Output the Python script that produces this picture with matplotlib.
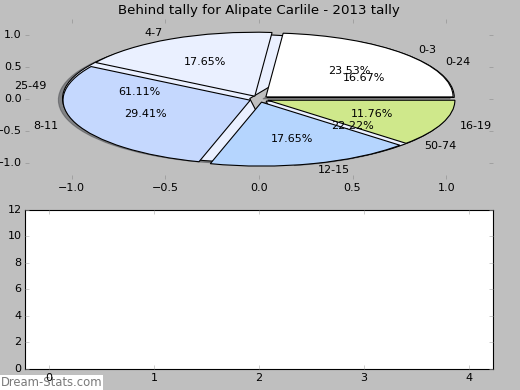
import matplotlib
matplotlib.use("Agg")
import matplotlib.pyplot as plt

plt.style.use("classic")
plt.rcParams["font.family"] = "DejaVu Sans"
plt.rcParams["font.size"] = 10

# data: behind tally by point range
inner_labels = ["0-3", "4-7", "8-11", "12-15", "16-19"]
inner_counts = [4, 3, 5, 3, 2]
outer_labels = ["0-24", "25-49", "50-74"]
outer_counts = [3, 11, 4]

inner_colors = ["#ffffff", "#eaf0ff", "#c5d8fe", "#b5d5fe", "#cfe88b"]
outer_colors = ["#ffffff", "#eaf0ff", "#eaf0ff"]

fig = plt.figure(figsize=(6.5, 4.875), dpi=80, facecolor="#bfbfbf")

# top: pie
ax1 = fig.add_axes([0.048, 0.541, 0.9, 0.41])
ax1.pie(outer_counts, labels=outer_labels, colors=outer_colors,
        explode=[0.05] * len(outer_counts), shadow=True, autopct="%.2f%%",
        frame=True, wedgeprops=dict(linewidth=1.0, edgecolor="black"))
ax1.pie(inner_counts, labels=inner_labels, colors=inner_colors,
        explode=[0.05] * len(inner_counts), autopct="%.2f%%",
        frame=True, wedgeprops=dict(linewidth=1.0, edgecolor="black"))
ax1.set_aspect("auto")
ax1.set_xlim(-1.25, 1.25)
ax1.set_ylim(-1.25, 1.25)
ax1.set_xticks([-1.0, -0.5, 0.0, 0.5, 1.0])
ax1.set_yticks([-1.0, -0.5, 0.0, 0.5, 1.0])
ax1.set_frame_on(False)
ax1.tick_params(direction="in", length=4, color="#8a8a8a")
ax1.tick_params(axis="y", pad=3)
ax1.set_title("Behind tally for Alipate Carlile - 2013 tally", fontsize=12)

# bottom: empty axes
ax2 = fig.add_axes([0.048, 0.054, 0.9, 0.408])
ax2.set_facecolor("white")
ax2.set_xlim(-0.23, 4.23)
ax2.set_ylim(0, 12)
ax2.set_xticks([0, 1, 2, 3, 4])
ax2.set_yticks([0, 2, 4, 6, 8, 10, 12])
ax2.tick_params(direction="in", length=4, color="#aaaaaa")
ax2.tick_params(axis="y", pad=3)

# watermark sits under the axes so the "0" tick label draws over it
fig.text(0.001, 0.01, "Dream-Stats.com", color="#7a7a7a", fontsize=10.5,
         zorder=-1, bbox=dict(facecolor="white", edgecolor="none", pad=0.6))

fig.savefig("out.png", dpi=80, facecolor=fig.get_facecolor())
